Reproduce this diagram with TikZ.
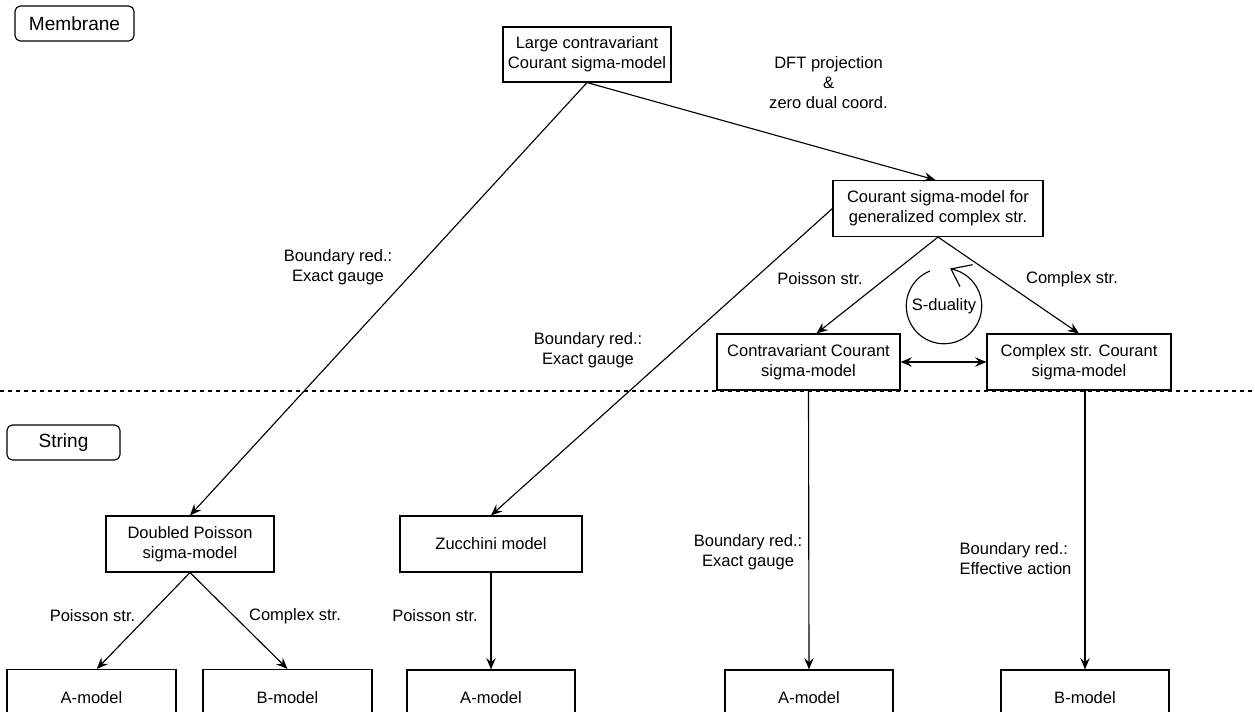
\documentclass[tikz,border=0pt]{standalone}
\usepackage{fontspec}
\setmainfont{Liberation Sans}
\usetikzlibrary{arrows.meta,positioning}

\begin{document}
\begin{tikzpicture}[x=0.75pt,y=-0.75pt,line width=0.85pt,
	box/.style={rectangle, draw, inner sep=0pt, align=center, minimum height=42pt, font=\fontsize{12.4}{15}\selectfont},
	tag/.style={rectangle, rounded corners=4pt, draw, inner sep=0pt, minimum height=26.25pt, font=\fontsize{14.3}{17}\selectfont},
	lbl/.style={inner sep=0pt, align=center, font=\fontsize{12.4}{15}\selectfont},
	arr/.style={-{Stealth[length=8.5pt,width=7pt,inset=3pt]}},
	darr/.style={{Stealth[length=8.5pt,width=7pt,inset=3pt]}-{Stealth[length=8.5pt,width=7pt,inset=3pt]}}]
	\useasboundingbox (0,0) rectangle (1255,711);
	\node[tag, minimum width=89.25pt](membrane) at (74.5,23.5) {Membrane};
	\node[tag, minimum width=84.75pt](string) at (63.5,442.5) {String};
	\draw[dash pattern=on 3pt off 3pt] (0,391) -- (1255,391);
	% membrane part
	\node[box, minimum width=126pt, minimum height=41.25pt](large) at (587,54.5) {Large contravariant\\Courant sigma-model};
	\node[box, minimum width=157.5pt](gcs) at (938,208.5) {Courant sigma-model for\\generalized complex str.};
	\node[box, minimum width=137.25pt](contra) at (808.5,362) {Contravariant Courant\\sigma-model};
	\node[box, minimum width=138pt](cplx) at (1079,362) {Complex str. Courant\\sigma-model};
	\node[lbl](sdual) at (944,306) {S-duality};
	% string part
	\node[box, minimum width=126pt](dp) at (190,544) {Doubled Poisson\\sigma-model};
	\node[box, minimum width=136.5pt](zuc) at (491,544) {Zucchini model};
	\node[box, minimum width=126.75pt](am1) at (91.5,697.5) {A-model};
	\node[box, minimum width=126.75pt](bm1) at (287.5,697.5) {B-model};
	\node[box, minimum width=126pt](am2) at (491,698) {A-model};
	\node[box, minimum width=126pt](am3) at (809,698) {A-model};
	\node[box, minimum width=126pt](bm3) at (1085,698) {B-model};
	% labels
	\node[lbl](dft) at (828.5,83) {DFT projection\\\&\\zero dual coord.};
	\node[lbl](bred1) at (338,267) {Boundary red.:\\Exact gauge};
	\node[lbl](bred2) at (588,350) {Boundary red.:\\Exact gauge};
	\node[lbl](bred3) at (748,552) {Boundary red.:\\Exact gauge};
	\node[lbl, align=left](bred4) at (1015.5,558.5) {Boundary red.:\\Effective action};
	\node[lbl](pois1) at (820,279) {Poisson str.};
	\node[lbl](comp1) at (1072,279) {Complex str.};
	\node[lbl](pois2) at (92.5,616) {Poisson str.};
	\node[lbl](comp2) at (295,616) {Complex str.};
	\node[lbl](pois3) at (435,616) {Poisson str.};
	% connectors
	\draw[arr] (large.south) -- ([xshift=-2pt]gcs.north);
	\draw[arr] (large.south) -- (dp.north);
	\draw[arr] (gcs.west) -- (zuc.north);
	\draw[arr] (gcs.south) -- ([xshift=6pt]contra.north);
	\draw[arr] (gcs.south) -- (cplx.north);
	\draw[darr] (contra.east) -- (cplx.west);
	\draw[arr] (contra.south) -- (am3.north);
	\draw[arr] (bm3.north |- cplx.south) -- (bm3.north);
	\draw[arr] (zuc.south) -- (am2.north);
	\draw[arr] (dp.south) -- ([xshift=4pt]am1.north);
	\draw[arr] (dp.south) -- (bm1.north);
	% S-duality cycle
	\draw ([shift={(112:28.3pt)}]sdual.center) arc[start angle=112, end angle=439, radius=28.3pt];
	\draw ([shift={(12pt,14.5pt)}]sdual.center) -- ([shift={(5.25pt,27.8pt)}]sdual.center) -- ([shift={(21.5pt,31pt)}]sdual.center);
\end{tikzpicture}
\end{document}
